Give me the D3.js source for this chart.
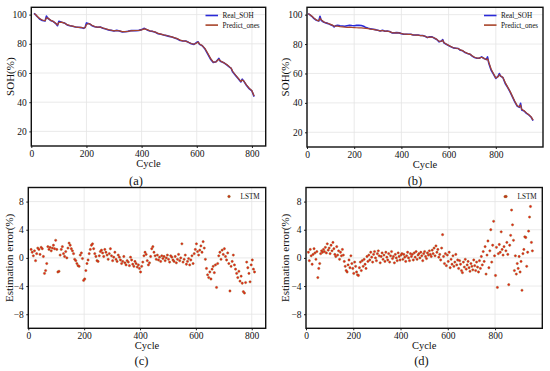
<!DOCTYPE html>
<html><head><meta charset="utf-8">
<script src="https://cdn.jsdelivr.net/npm/d3@7"></script>
<style>body{margin:0;background:#fff} text{font-family:"Liberation Serif","Times New Roman",serif;fill:#111}</style>
</head><body><svg id="c" width="550" height="371"></svg>
<script>
// ---------- data ----------
const cyclesA = [10,15,20,25,30,40,50,55,60,70,80,90,95,100,110,120,130,140,150,160,170,180,190,195,200,210,220,230,240,250,260,270,280,290,300,310,320,330,340,350,360,370,380,390,400,410,420,430,440,450,460,470,480,490,500,510,520,530,540,550,560,570,580,590,600,605,610,620,630,640,650,660,670,680,685,690,700,710,720,725,730,740,750,760,765,770,780,790,800,808];
const realA = [100.9,100.0,98.9,98.0,97.0,96.0,95.6,99.0,97.5,96.0,95.2,93.6,92.4,95.4,94.7,94.3,92.9,92.4,92.0,91.5,91.3,91.1,90.6,91.2,94.3,93.8,92.4,91.7,91.3,91.5,90.6,90.1,89.5,89.2,88.8,89.2,88.8,88.1,88.3,88.5,89.0,89.0,89.0,89.2,89.7,90.6,89.5,88.8,88.5,87.9,86.9,86.5,86.0,85.6,85.1,84.6,84.0,83.3,82.3,81.9,81.9,81.0,80.0,79.6,81.0,81.4,79.6,78.7,76.4,73.0,69.5,67.2,67.7,70.0,68.1,67.7,66.8,65.4,63.8,63.1,60.8,58.5,56.2,53.9,55.8,54.6,51.6,49.3,47.7,43.8];
const predA = [100.6,100.2,99.2,98.2,97.3,96.3,95.8,97.8,97.6,96.2,95.3,93.9,92.9,94.6,94.8,94.2,93.1,92.5,92.1,91.6,91.3,91.2,90.8,91.0,93.2,93.9,92.7,91.8,91.4,91.4,90.8,90.2,89.7,89.3,88.9,89.1,88.9,88.3,88.3,88.5,88.8,89.0,89.1,89.2,89.5,90.2,89.7,88.9,88.6,88.0,87.1,86.6,86.1,85.7,85.2,84.7,84.1,83.5,82.5,82.0,81.8,81.1,80.2,79.7,80.6,81.2,79.9,78.8,76.7,73.5,70.0,67.5,67.6,69.4,68.5,67.8,66.9,65.6,64.0,63.3,61.2,58.8,56.5,54.2,55.2,54.7,51.9,49.6,47.9,44.2];

const cyclesB = [5,10,20,30,40,50,55,60,70,80,90,100,110,115,120,130,140,150,160,170,180,190,200,210,220,230,240,250,260,270,280,290,300,310,320,330,340,350,360,370,380,390,400,410,420,430,440,450,460,470,480,490,500,510,520,530,540,550,560,570,575,580,590,600,610,620,630,640,650,660,670,680,690,700,710,720,730,740,750,760,765,770,780,790,800,810,815,820,830,840,850,860,870,880,890,900,905,910,920,930,940,950,958];
const realB = [100.7,100.2,98.9,97.3,96.2,95.7,98.9,96.2,95.0,94.4,93.9,93.2,92.5,91.6,92.5,92.8,92.5,92.3,92.1,92.5,92.8,92.6,92.5,92.7,92.8,92.6,92.1,91.2,90.7,90.3,90.1,89.8,89.4,88.9,89.4,88.7,88.9,88.5,87.6,87.6,87.8,87.6,87.1,86.7,86.7,86.7,86.7,86.2,86.2,86.2,85.8,85.8,85.3,84.4,84.9,84.9,84.0,83.1,81.5,82.1,83.1,80.8,79.9,79.0,78.1,77.4,77.2,77.0,75.8,75.4,74.2,73.6,73.1,71.8,70.8,70.4,70.4,71.3,70.2,69.5,71.3,67.2,62.3,59.5,56.6,58.2,60.0,58.2,57.3,53.2,50.5,47.6,44.2,40.8,37.9,37.0,39.7,35.1,34.5,32.9,31.8,30.2,27.9];
const predB = [100.5,100.3,99.1,97.6,96.4,95.8,97.6,96.6,95.2,94.5,94.0,93.4,92.7,92.1,92.2,92.2,91.9,91.7,91.5,91.4,91.5,91.3,91.2,91.1,91.0,91.0,90.9,90.7,90.5,90.2,90.0,89.7,89.4,89.0,89.2,88.8,88.8,88.5,87.8,87.6,87.7,87.6,87.2,86.8,86.7,86.6,86.6,86.3,86.1,86.1,85.8,85.7,85.3,84.6,84.7,84.8,84.1,83.2,81.8,81.9,82.6,81.0,80.0,79.1,78.3,77.5,77.2,77.0,76.0,75.5,74.4,73.7,73.2,72.0,71.0,70.5,70.4,71.0,70.3,69.4,70.0,67.8,63.0,60.0,57.0,57.8,59.2,58.5,57.2,53.8,50.9,48.0,44.6,41.3,38.3,37.2,38.5,35.6,34.6,33.2,31.9,30.5,28.3];

// estimation error, one value every 4 cycles starting at cycle 10
const errStart = 10, errStep = 4;
const errC = [
 1.2,0.8,0.3,1.0,-0.4,0.6,1.4,1.2,0.5,1.5,
 1.3,0.2,-2.2,-1.8,-0.8,1.6,1.2,1.5,1.0,1.4,
 1.8,1.3,2.5,1.2,-2.0,-1.9,0.4,1.2,1.6,0.6,
 0.2,0.9,0.0,1.4,2.1,1.8,1.3,1.0,0.6,-0.2,
 -0.4,-0.8,-1.1,-1.2,0.4,0.7,-0.1,-3.2,-3.0,-1.8,
 -0.8,-0.3,0.6,1.2,1.8,2.0,1.3,0.6,0.2,-0.4,
 -0.5,0.3,0.9,1.1,0.7,0.2,1.2,0.8,0.4,-0.2,
 0.6,1.3,0.3,-0.4,0.1,0.8,-0.2,-0.5,0.4,0.1,
 -0.3,-0.8,-0.5,0.2,-0.7,-1.0,-0.4,-0.6,-1.1,0.1,
 -0.3,-0.9,-1.2,-0.5,-0.8,-1.3,-1.0,-1.5,-2.0,-1.2,
 -0.6,0.3,0.8,0.5,-0.4,-1.0,-0.7,0.2,1.3,1.6,
 0.8,0.3,-0.2,0.4,-0.3,0.1,-0.5,0.3,-0.1,0.2,
 -0.4,0.0,0.4,-0.2,-0.6,0.3,0.1,-0.3,-0.5,0.2,
 -0.7,-0.2,0.5,-0.4,0.0,2.0,-0.6,-0.2,0.4,-0.9,
 -0.5,-0.1,-1.0,-0.3,0.3,-0.8,0.6,1.2,2.0,0.9,
 0.4,1.1,1.7,0.8,2.3,1.4,-0.2,-1.5,-2.4,-2.8,
 -2.0,-3.0,-1.6,-1.2,-2.1,-1.0,-4.2,-0.8,0.3,0.8,
 -0.2,1.1,0.5,1.3,0.2,-0.3,0.7,-0.8,-4.7,-1.2,
 -0.5,0.4,-1.0,-1.6,-2.2,-2.8,-1.9,-3.3,-2.6,-3.6,
 -4.8,-5.0,-3.5,-0.6,-1.4,-2.2,-3.4,-1.0,-0.3,-1.6,
 -2.0];
const errD = [
 0.8,-0.4,1.2,0.3,-0.9,0.5,1.3,0.7,-0.2,0.9,
 -2.8,-1.5,-0.8,0.6,1.0,0.8,1.2,0.9,1.5,0.7,
 2.0,1.1,1.4,0.6,1.8,1.0,2.2,1.3,0.5,0.2,
 1.6,0.4,1.0,-0.2,0.8,0.3,1.2,0.4,-0.5,-1.2,
 -1.8,-2.0,-1.0,-0.3,-1.4,0.3,-0.8,-1.5,-2.2,-0.6,
 -1.2,-2.0,-2.4,-2.5,-1.4,-0.6,-1.8,-0.4,-1.2,-0.2,
 -0.9,-1.5,0.2,-0.5,0.4,-0.3,0.8,0.1,-0.6,0.5,
 0.9,0.0,-0.4,0.6,1.0,0.3,-0.7,0.2,0.7,-0.2,
 0.4,-0.5,0.8,0.1,-0.3,0.6,-0.6,0.3,0.9,-0.1,
 0.2,-0.7,0.5,0.0,-0.4,0.7,0.2,-0.3,0.4,0.6,
 -0.2,0.5,0.1,-0.5,0.3,0.8,0.0,-0.4,0.6,0.2,
 0.5,-0.3,0.7,0.1,0.9,-0.2,0.4,0.6,0.0,0.8,
 0.3,-0.4,0.6,0.9,0.2,-0.1,0.7,0.4,1.0,0.5,
 0.2,1.1,0.6,1.4,0.3,1.7,0.8,1.2,0.1,0.5,
 -0.3,1.4,3.3,0.2,-0.8,0.6,-1.1,0.4,-0.5,0.8,
 -1.4,-0.2,-0.9,0.3,-1.2,-0.6,0.5,-1.0,-0.3,-1.5,
 -0.4,-0.9,-1.8,-2.1,-0.6,-1.3,-0.2,-1.6,-1.0,-0.5,
 -1.4,-1.9,-0.8,-1.2,-1.7,-0.3,-1.1,-1.8,-0.6,-1.3,
 -2.0,-0.4,-1.5,0.2,-1.0,0.9,-0.5,1.6,-2.3,0.4,
 2.4,-1.4,1.0,4.0,-0.6,1.8,5.2,0.3,-2.5,1.5,
 -4.2,0.6,1.9,0.8,3.7,1.2,0.4,1.6,8.7,1.0,
 2.2,0.5,-3.8,1.8,3.2,6.8,4.7,2.5,-1.8,0.3,
 -2.3,-0.8,-1.5,0.2,-2.0,-0.5,-4.6,0.6,1.2,3.0,
 2.9,-1.2,0.8,3.8,5.8,7.3,2.2,1.0];

const xTicks = [0,200,400,600,800];
const sohTicks = [20,40,60,80,100];
const errTicks = [-8,-4,0,4,8];

// ---------- drawing ----------
const svg = d3.select("#c");
const REAL = "#2a2ad8", PRED = "#a8442a", DOTF = "#f01818", DOTS = "#8a6a1a";

function panel(o){
  const x = d3.scaleLinear().domain(o.xDomain).range([o.x0,o.x1]);
  const y = d3.scaleLinear().domain(o.yDomain).range([o.y1,o.y0]);
  const g = svg.append("g");
  g.append("g").selectAll("line").data(xTicks).join("line")
    .attr("x1",d=>x(d)).attr("x2",d=>x(d)).attr("y1",o.y0).attr("y2",o.y1)
    .attr("stroke","#e4e4e4").attr("stroke-width",0.8);
  g.append("g").selectAll("line").data(o.yTicks).join("line")
    .attr("x1",o.x0).attr("x2",o.x1).attr("y1",d=>y(d)).attr("y2",d=>y(d))
    .attr("stroke","#e4e4e4").attr("stroke-width",0.8);
  const xa = g.append("g").attr("transform",`translate(0,${o.y1})`)
    .call(d3.axisBottom(x).tickValues(xTicks).tickSize(2).tickPadding(2));
  const ya = g.append("g").attr("transform",`translate(${o.x0},0)`)
    .call(d3.axisLeft(y).tickValues(o.yTicks).tickSize(2).tickPadding(2.5)
      .tickFormat(d=> d<0 ? "\u2212"+Math.abs(d) : d));
  [xa,ya].forEach(a=>{
    a.select(".domain").remove();
    a.selectAll("text").attr("font-size",9.5).attr("font-family","Liberation Serif").attr("fill","#111");
    a.selectAll("line").attr("stroke","#222");
  });
  g.append("rect").attr("x",o.x0).attr("y",o.y0).attr("width",o.x1-o.x0).attr("height",o.y1-o.y0)
    .attr("fill","none").attr("stroke","#111").attr("stroke-width",1.4);
  g.append("text").attr("x",(o.x0+o.x1)/2).attr("y",o.y1+17.5).attr("dy","0.35em")
    .attr("text-anchor","middle").attr("font-size",10.5).text("Cycle");
  g.append("text").attr("transform",`translate(${o.ylx},${(o.y0+o.y1)/2}) rotate(-90)`)
    .attr("dy","0.35em").attr("text-anchor","middle").attr("font-size",11).text(o.yLabel);
  g.append("text").attr("x",o.lx).attr("y",o.ly).attr("dy","0.35em")
    .attr("text-anchor","middle").attr("font-size",12.5).text(o.label);
  return {x,y,g};
}

function sohPanel(o, cycles, real, pred){
  const p = panel(o);
  const line = d3.line().x((d,i)=>p.x(cycles[i])).y(d=>p.y(d));
  p.g.append("path").datum(real).attr("d",line).attr("fill","none")
    .attr("stroke",REAL).attr("stroke-width",1.6).attr("stroke-linejoin","round");
  p.g.append("path").datum(pred).attr("d",line).attr("fill","none")
    .attr("stroke",PRED).attr("stroke-width",1.2).attr("stroke-linejoin","round");
  const lg = p.g.append("g");
  [["Real_SOH",REAL,0],["Predict_ones",PRED,9.6]].forEach(([t,c,dy])=>{
    lg.append("line").attr("x1",o.legX).attr("x2",o.legX+12.5).attr("y1",15.5+dy).attr("y2",15.5+dy)
      .attr("stroke",c).attr("stroke-width",1.6);
    lg.append("text").attr("x",o.legX+17).attr("y",15.5+dy).attr("dy","0.35em")
      .attr("font-size",7.2).text(t);
  });
}

function errPanel(o, err){
  const p = panel(o);
  p.g.append("g").selectAll("circle").data(err).join("circle")
    .attr("cx",(d,i)=>p.x(errStart+i*errStep)).attr("cy",d=>p.y(d)).attr("r",1.15)
    .attr("fill",DOTF).attr("stroke",DOTS).attr("stroke-width",0.45);
  p.g.append("circle").attr("cx",o.legX).attr("cy",196.5).attr("r",1.3)
    .attr("fill","#d02a1e").attr("stroke",DOTS).attr("stroke-width",0.5);
  p.g.append("text").attr("x",o.legX+11.5).attr("y",196.5).attr("dy","0.35em")
    .attr("font-size",7.2).text("LSTM");
}

sohPanel({x0:31.3,x1:265.7,y0:7.3,y1:146,xDomain:[0,850],yDomain:[10,105],yTicks:sohTicks,
  yLabel:"SOH(%)",ylx:10,label:"(a)",lx:136,ly:180.5,legX:205.5}, cyclesA, realA, predA);
sohPanel({x0:307,x1:543,y0:7.3,y1:147,xDomain:[0,1000],yDomain:[10,105],yTicks:sohTicks,
  yLabel:"SOH(%)",ylx:285,label:"(b)",lx:415,ly:180.5,legX:484}, cyclesB, realB, predB);
errPanel({x0:28.3,x1:265.7,y0:187.5,y1:328.3,xDomain:[0,850],yDomain:[-10,10],yTicks:errTicks,
  yLabel:"Estimation error(%)",ylx:9.5,label:"(c)",lx:141.5,ly:360.5,legX:229}, errC);
errPanel({x0:306,x1:542.3,y0:187.5,y1:328.3,xDomain:[0,1000],yDomain:[-10,10],yTicks:errTicks,
  yLabel:"Estimation error(%)",ylx:285,label:"(d)",lx:421.5,ly:360.5,legX:506}, errD);
</script></body></html>
